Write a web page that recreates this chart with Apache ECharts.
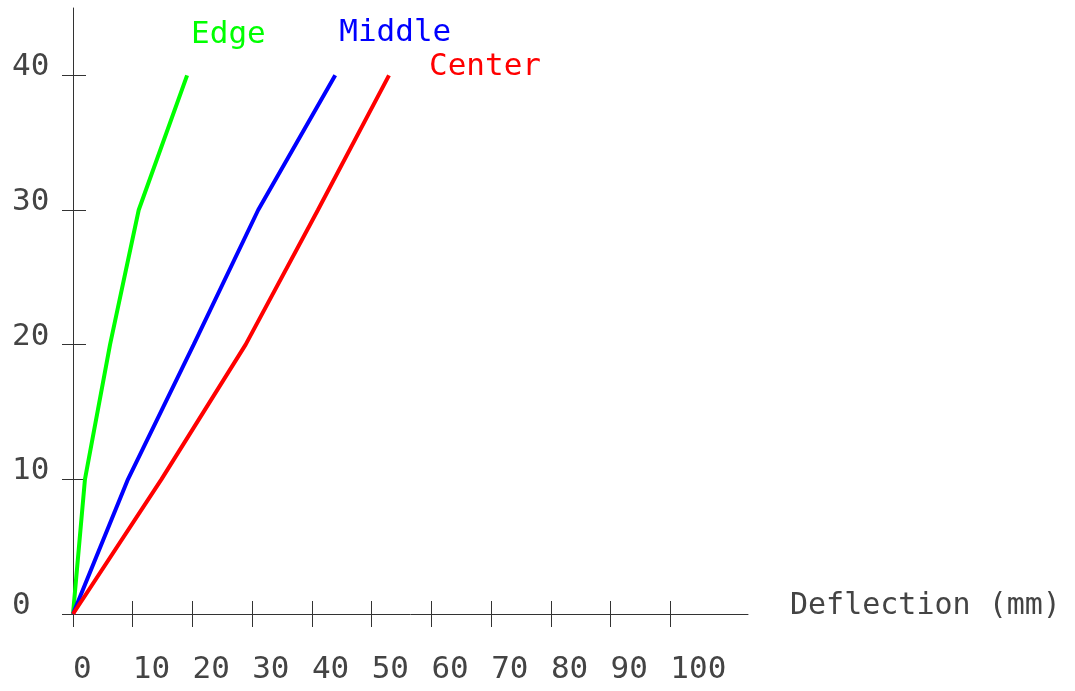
<!DOCTYPE html>
<html>
<head>
<meta charset="utf-8">
<script src="https://cdn.jsdelivr.net/npm/echarts@6/dist/echarts.min.js"></script>
<style>
  html, body { margin: 0; padding: 0; background: #fff; }
  #chart { width: 1075px; height: 691px; }
</style>
</head>
<body>
<div id="chart"></div>
<script>
// load levels (y) and deflection readings (x, mm)
const loads = [0, 10, 20, 30, 40];
const edge = [0, 2.0, 6.2, 11.0, 19.1];
const middle = [0, 9.2, 20.2, 31.0, 43.9];
const center = [0, 14.8, 28.9, 41.0, 52.9];
const xTicks = [0, 10, 20, 30, 40, 50, 60, 70, 80, 90, 100];
const yTicks = [0, 10, 20, 30, 40];

const font = "'DejaVu Sans Mono', monospace";
const axisColor = '#333';
const textColor = '#444';

const pairs = xs => xs.map((x, i) => [x, loads[i]]);

function line(name, values, color, offset) {
    return {
        name: name,
        type: 'line',
        data: pairs(values),
        symbol: 'none',
        lineStyle: { color: color, width: 4 },
        endLabel: {
            show: true,
            formatter: '{a}',
            color: color,
            fontFamily: font,
            fontSize: 31,
            distance: 4,
            offset: offset
        },
        animation: false
    };
}

const chart = echarts.init(document.getElementById('chart'));
chart.setOption({
    animation: false,
    grid: { left: 73, right: 327, top: 8, bottom: 77 },
    xAxis: [{
        type: 'value',
        min: 0,
        max: 113,
        splitLine: { show: false },
        axisLine: { lineStyle: { color: axisColor, width: 1 } },
        axisTick: { show: true, length: 13, customValues: xTicks, lineStyle: { color: axisColor } },
        axisLabel: {
            customValues: xTicks,
            align: 'left',
            verticalAlign: 'top',
            lineHeight: 22,
            margin: 45,
            fontSize: 31,
            fontFamily: font,
            color: textColor
        },
        name: 'Deflection (mm)',
        nameLocation: 'end',
        nameGap: 42,
        nameTextStyle: {
            fontSize: 30,
            fontFamily: font,
            color: textColor,
            align: 'left',
            verticalAlign: 'bottom',
            lineHeight: 16
        }
    }, {
        // same axis again, ticks drawn upward so they cross the line
        type: 'value',
        position: 'bottom',
        min: 0,
        max: 113,
        splitLine: { show: false },
        axisLine: { show: false },
        axisTick: { show: true, inside: true, length: 13, customValues: xTicks, lineStyle: { color: axisColor } },
        axisLabel: { show: false }
    }],
    yAxis: [{
        type: 'value',
        min: 0,
        max: 45,
        splitLine: { show: false },
        axisLine: { lineStyle: { color: axisColor, width: 1 } },
        axisTick: { show: true, length: 11, customValues: yTicks, lineStyle: { color: axisColor } },
        axisLabel: {
            customValues: yTicks,
            align: 'left',
            verticalAlign: 'bottom',
            lineHeight: 16,
            margin: 61,
            fontSize: 31,
            fontFamily: font,
            color: textColor
        }
    }, {
        type: 'value',
        position: 'left',
        min: 0,
        max: 45,
        splitLine: { show: false },
        axisLine: { show: false },
        axisTick: { show: true, inside: true, length: 13, customValues: yTicks, lineStyle: { color: axisColor } },
        axisLabel: { show: false }
    }],
    series: [
        line('Edge', edge, '#00ff00', [0, -40]),
        line('Middle', middle, '#0000ff', [0, -42]),
        line('Center', center, '#ff0000', [36, -8])
    ]
});
</script>
</body>
</html>
